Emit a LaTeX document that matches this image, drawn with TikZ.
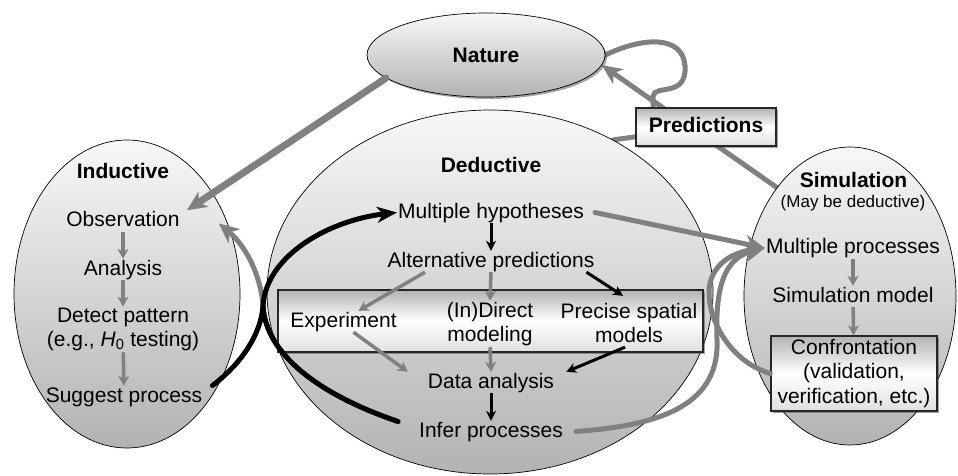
\documentclass[tikz,border=0pt]{standalone}
\usepackage{fontspec}
\setmainfont{Liberation Sans}
\usepackage{tikz}
\usetikzlibrary{positioning}
\usetikzlibrary{arrows.meta}
\usetikzlibrary{shapes.geometric}
\usetikzlibrary{shadows}
\usetikzlibrary{calc}
\usetikzlibrary{backgrounds}
\newcommand{\mainsize}{\fontsize{21}{24.5}\selectfont}
\newcommand{\subsize}{\fontsize{17}{20}\selectfont}
\newcommand{\gthick}{5pt}
\newcommand{\sthick}{3.5pt}

\tikzset{
	blob/.style={ellipse, draw=black, line width=0.7pt, inner sep=0pt, top color=gray!6, bottom color=gray!60},
	panel/.style={rectangle, draw=black!85, line width=1.3pt, inner sep=0pt, top color=gray!60, bottom color=gray!25, middle color=white},
	lbl/.style={font=\mainsize, inner sep=1pt, text height=15pt, text depth=4pt},
	lbls/.style={font=\mainsize, inner sep=1pt, align=center},
	ttl/.style={lbl, font=\mainsize\bfseries},
	gline/.style={draw=black!50, line width=\gthick, line cap=round},
	garrow/.style={gline, -{Stealth[length=20pt, width=18pt, inset=6pt]}},
	bline/.style={draw=black, line width=\gthick, line cap=round},
	barrow/.style={bline, -{Stealth[length=20pt, width=16pt, inset=6pt]}},
	sgarrow/.style={draw=black!50, line width=\sthick, -{Stealth[length=10pt, width=11pt, inset=3pt]}},
	sbarrow/.style={draw=black, line width=3pt, -{Stealth[length=10pt, width=10pt, inset=3pt]}},
	shade/.style={drop shadow={shadow xshift=2pt, shadow yshift=-2pt, fill=black!70}}
}

\begin{document}
\begin{tikzpicture}[x=1pt, y=-1pt]
	\useasboundingbox (0,0) rectangle (958,476);

	\node[blob, shade, minimum width=238pt, minimum height=84pt, font=\mainsize\bfseries] (nature) at (486,55) {Nature};
	\node[blob, minimum width=226pt, minimum height=308pt] (induc) at (127,294) {};
	\node[blob, minimum width=446pt, minimum height=364pt] (deduc) at (490,292) {};
	\node[blob, minimum width=212pt, minimum height=298pt] (simul) at (850,296) {};

	\node[ttl] (indtitle) at (123,172.5) {Inductive};
	\node[lbl] (obs) at (123,221) {Observation};
	\node[lbl] (anal) at (123,269.5) {Analysis};
	\node[lbls] (detect) at (123,329.5) {Detect pattern\\(e.g., \textit{H}\textsubscript{0} testing)};
	\node[lbl] (suggest) at (124,396.5) {Suggest process};

	\node[ttl] (dedtitle) at (491,166.5) {Deductive};
	\node[lbl] (hyp) at (491,212.5) {Multiple hypotheses};
	\node[lbl] (altpred) at (491,261.5) {Alternative predictions};
	\node[panel, shade, minimum width=425pt, minimum height=62pt] (expbox) at (490.5,321) {};
	\node[lbl] (exper) at (343.5,321.5) {Experiment};
	\node[lbls] (indirect) at (490,324) {(In)Direct\\modeling};
	\node[lbls] (precise) at (629,323) {Precise spatial\\models};
	\node[lbl] (data) at (491,382.5) {Data analysis};
	\node[lbl] (infer) at (491,431.5) {Infer processes};

	\node[ttl] (simtitle) at (853.5,181.5) {Simulation};
	\node[lbl, font=\subsize, text height=12pt, text depth=3.5pt] (maybe) at (853,203.5) {(May be deductive)};
	\node[lbl] (multproc) at (853,248) {Multiple processes};
	\node[lbl] (simmodel) at (853,296.5) {Simulation model};
	\node[panel, shade, lbls, minimum width=166pt, minimum height=75pt] (confront) at (854,373.5) {Confrontation\\(validation,\\verification, etc.)};

	\node[ttl, panel, shade, minimum width=140pt, minimum height=38pt] (predict) at (706,127) {Predictions};

	\begin{scope}[on background layer]
		\draw[gline] (deduc.51) -- (predict);
		\draw[gline] ([xshift=-53pt]predict.north) -- (653,96) .. controls (655,84) and (687,98) .. (685,66) .. controls (683,36) and (645,36) .. (nature.east);
		\draw[garrow] (simul.124) -- (nature.355);
	\end{scope}

	\draw[garrow, line width=7pt] (nature.193) -- ([xshift=6pt]obs.north east);
	\draw[sgarrow] (obs) -- (anal);
	\draw[sgarrow] (anal) -- (detect);
	\draw[sgarrow] (detect) -- (suggest);

	\draw[garrow] ($(infer.west)+(-20,-10)$) .. controls (320,395) and (266,355) .. (263,306) .. controls (261,275) and (245,245) .. ([xshift=-9pt]induc.35);
	\draw[bline] ($(infer.west)+(-20,-10)$) .. controls (320,395) and (266,355) .. (263,306);
	\draw[barrow] ($(suggest.east)+(9,-11)$) .. controls (240,365) and (261,335) .. (263,306) .. controls (266,255) and (330,220) .. (hyp.west);

	\draw[sbarrow] (hyp) -- (altpred);
	\draw[sgarrow] ([xshift=-66pt]altpred.south) -- ([xshift=15pt]exper.north);
	\draw[sgarrow] (altpred.south) -- (indirect.north);
	\draw[sbarrow] ([xshift=-9pt]altpred.south east) -- ($(precise.north)+(-6,-6)$);
	\draw[sgarrow] ([xshift=10pt]exper.south) -- ([xshift=-19pt]data.north west);
	\draw[sgarrow] (indirect.south) -- (data.north);
	\draw[sbarrow] ($(precise.south)+(-4,3)$) -- ([xshift=11pt]data.north east);
	\draw[sbarrow] (data) -- (infer);

	\draw[garrow] ([xshift=10pt]hyp.east) -- (multproc.west);
	\draw[garrow] ([xshift=12pt]infer.east) .. controls (650,426) and (720,410) .. (717,340) .. controls (715,285) and (725,258) .. (multproc.west);
	\draw[garrow] (confront.west) .. controls (725,360) and (704,310) .. (710,283) .. controls (715,262) and (735,252) .. (multproc.west);
	\draw[sgarrow] (multproc) -- (simmodel);
	\draw[sgarrow] (simmodel) -- (confront);
\end{tikzpicture}
\end{document}
